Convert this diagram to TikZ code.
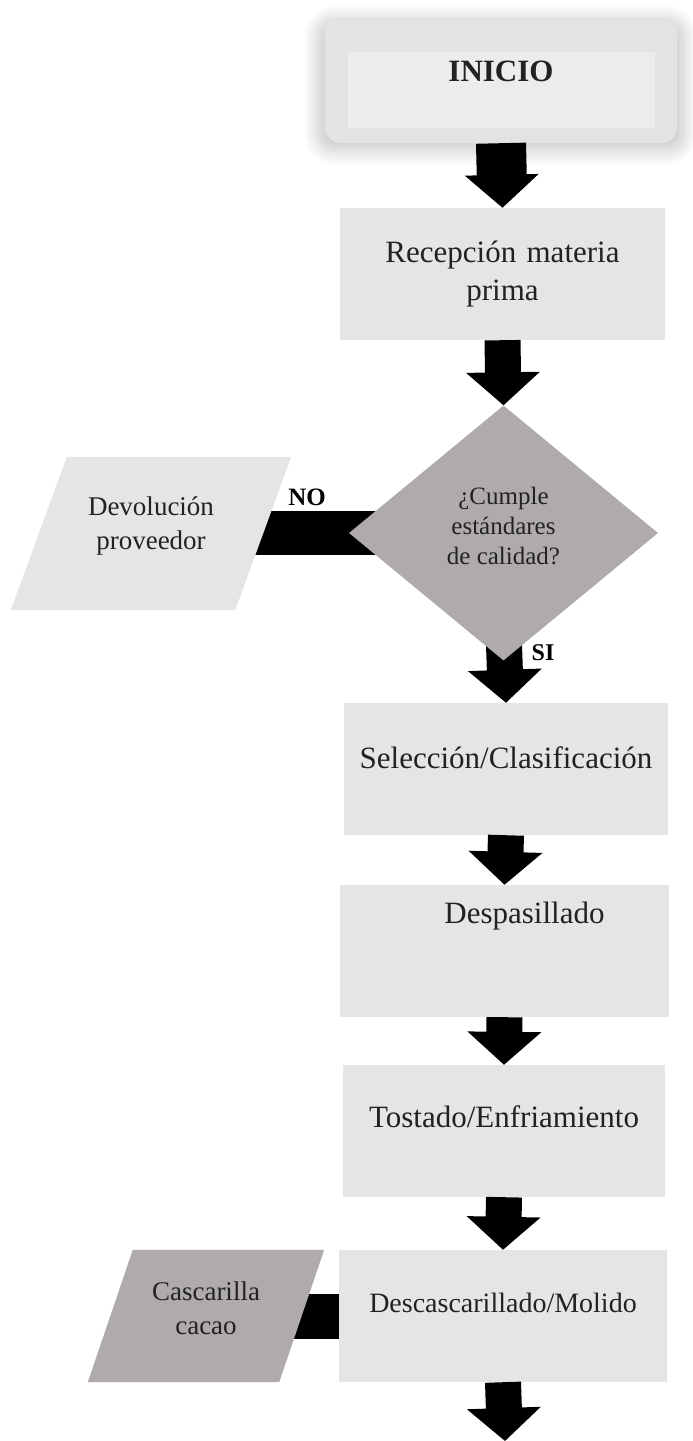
\documentclass[tikz,border=0pt]{standalone}
\usepackage{fontspec}
\setmainfont{Liberation Serif}
\usetikzlibrary{arrows.meta,shapes.geometric,shadows.blur,backgrounds}

\definecolor{boxgray}{HTML}{E5E5E5}
\definecolor{startgray}{HTML}{E3E3E3}
\definecolor{startin}{HTML}{ECECEC}
\definecolor{diagray}{HTML}{AEABAA}
\definecolor{txtdark}{HTML}{222222}

\begin{document}
\begin{tikzpicture}[
        x=1pt, y=-1pt,
        box/.style={
            rectangle,
            fill=boxgray,
            minimum height=132pt,
            inner sep=0pt,
            text=txtdark,
            font=\fontsize{31}{38}\selectfont,
        },
        lift/.style={text height=22pt, text depth=#1},
        slantbox/.style={
            rectangle,
            inner sep=0pt,
            text=txtdark,
            align=center,
            font=\fontsize{27}{34}\selectfont,
        },
        flowarrow/.style={
            line width=36pt,
            -{Triangle[length=33pt, width=72pt]},
        },
        tag/.style={font=\bfseries\fontsize{25}{30}\selectfont},
    ]
    \useasboundingbox (0,0) rectangle (693,1441);

    % inicio
    \node (inicio) at (501,80) [rectangle, rounded corners=16pt, fill=startgray,
        minimum width=352pt, minimum height=126pt,
        blur shadow={shadow xshift=0pt, shadow yshift=-5pt, shadow blur radius=14pt, shadow opacity=22, shadow scale=1.04, shadow blur steps=20}] {};
    \fill [startin] (348,52) rectangle (655,128);
    \node (iniciotxt) at (501,71) [font=\bfseries\fontsize{31}{36}\selectfont, text=txtdark] {INICIO};

    % proceso
    \node (recep) at (502.5,274) [box, minimum width=325pt, text width=300pt, align=center] {Recepción materia\\prima};
    \node (decide) at (503.5,533) [diamond, fill=diagray, minimum width=309pt, minimum height=255pt,
        shape aspect=1.21, inner sep=0pt, text=txtdark, align=center,
        font=\fontsize{25}{30}\selectfont] {¿Cumple\\estándares\\de calidad?\\[-16pt]};
    \node (devol) at (151,533.5) [slantbox, minimum width=224pt, minimum height=153pt] {Devolución\\proveedor\\[-14pt]};
    \node (selec) at (506,769) [box, lift=24pt, minimum width=324pt] {Selección/Clasificación};
    \node (despas) at (504.5,951) [box, lift=78pt, minimum width=329pt, text width=200pt, align=right] {Despasillado};
    \node (tostado) at (504,1131) [box, lift=30pt, minimum width=322pt] {Tostado/Enfriamiento};
    \node (descasc) at (503,1316) [box, lift=30pt, minimum width=328pt, font=\fontsize{28}{34}\selectfont] {Descascarillado/Molido};
    \node (cascar) at (206,1316) [slantbox, minimum width=191pt, minimum height=132pt] {Cascarilla\\cacao\\[-18pt]};
    \coordinate (fin) at (505,1441);

    \node (no) at (307,497) [tag] {NO};
    \node (si) at (543,653) [tag, font=\bfseries\fontsize{24}{28}\selectfont] {SI};

    \draw [flowarrow, line width=50pt] (inicio.south) -- (recep.north);
    \draw [flowarrow] (recep.south) -- (decide.north);
    \draw [flowarrow] (selec.south) -- (despas.north);
    \draw [flowarrow] (despas.south) -- (tostado.north);
    \draw [flowarrow] (tostado.south) -- (descasc.north);
    \draw [flowarrow] (descasc.south) -- (fin);

    \begin{pgfonlayer}{background}
        \draw [flowarrow] ([yshift=30pt]decide.south) -- (selec.north);
        \draw [line width=44pt] (decide.center) -- (devol.center |- decide.center);
        \draw [line width=45pt] (descasc.center) -- (cascar.center |- descasc.center);
        % paralelogramos
        \fill [boxgray] ([xshift=28pt]devol.north west) -- ([xshift=28pt]devol.north east)
            -- ([xshift=-28pt]devol.south east) -- ([xshift=-28pt]devol.south west) -- cycle;
        \fill [diagray] ([xshift=22.5pt]cascar.north west) -- ([xshift=22.5pt]cascar.north east)
            -- ([xshift=-22.5pt]cascar.south east) -- ([xshift=-22.5pt]cascar.south west) -- cycle;
    \end{pgfonlayer}

\end{tikzpicture}
\end{document}
